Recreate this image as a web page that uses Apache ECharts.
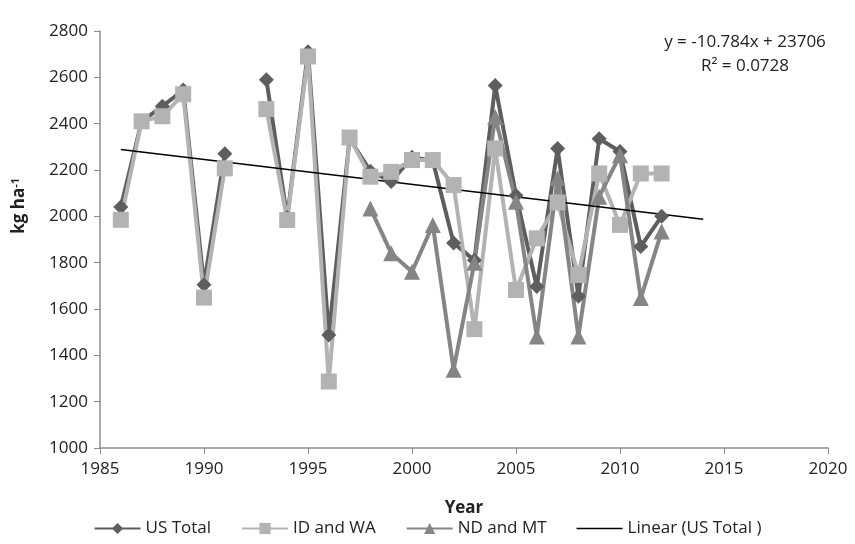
<!DOCTYPE html>
<html>
<head>
<meta charset="utf-8">
<script src="https://cdn.jsdelivr.net/npm/echarts@6/dist/echarts.min.js"></script>
<style>
  html, body { margin: 0; padding: 0; background: #fff; }
  #chart { width: 855px; height: 544px; }
</style>
</head>
<body>
<div id="chart"></div>
<script>
// years on the x axis
const years = [1986, 1987, 1988, 1989, 1990, 1991, 1992, 1993, 1994, 1995, 1996, 1997, 1998, 1999,
  2000, 2001, 2002, 2003, 2004, 2005, 2006, 2007, 2008, 2009, 2010, 2011, 2012]
// yields, kg ha-1 (null = no data)
const usTotal = [2040, 2410, 2475, 2545, 1705, 2270, null, 2590, 1995, 2710, 1488, 2335, 2195, 2150,
  2255, 2240, 1885, 1810, 2565, 2090, 1697, 2293, 1655, 2335, 2280, 1870, 2000]
const idWa = [1985, 2410, 2432, 2527, 1649, 2207, null, 2463, 1984, 2690, 1287, 2340, 2171, 2192,
  2243, 2243, 2135, 1513, 2293, 1682, 1905, 2060, 1747, 2185, 1963, 2185, 2185]
const ndMt = [null, null, null, null, null, null, null, null, null, null, null, null, 2034, 1841,
  1761, 1963, 1338, 1800, 2429, 2063, 1481, 2164, 1481, 2085, 2264, 1647, 1934]
// linear trend of US total, end points
const trendYears = [1986, 2014]
const trendValues = [2289, 1987]

const pairs = (xs, ys) => xs.map((x, i) => [x, ys[i]])

const font = 'Open Sans'
const chart = echarts.init(document.getElementById('chart'))

chart.setOption({
  animation: false,
  textStyle: { fontFamily: font },
  grid: { left: 100, right: 27, top: 31, bottom: 96 },
  xAxis: {
    type: 'value',
    min: 1985,
    max: 2020,
    interval: 5,
    name: 'Year',
    nameLocation: 'middle',
    nameGap: 52,
    nameTextStyle: { fontSize: 17, fontWeight: 'bold', color: '#222' },
    axisLine: { lineStyle: { color: '#8c8c8c', width: 1.5 } },
    axisTick: { show: true, length: 6, lineStyle: { color: '#8c8c8c' } },
    axisLabel: { fontSize: 17, color: '#222', margin: 13, formatter: v => String(v) },
    splitLine: { show: false }
  },
  yAxis: {
    type: 'value',
    min: 1000,
    max: 2800,
    interval: 200,
    axisLine: { show: true, lineStyle: { color: '#8c8c8c', width: 1.5 } },
    axisTick: { show: true, length: 6, lineStyle: { color: '#8c8c8c' } },
    axisLabel: { fontSize: 17, color: '#222', margin: 12, formatter: v => String(v) },
    splitLine: { show: false }
  },
  legend: {
    bottom: 2,
    left: 'center',
    itemWidth: 46,
    itemHeight: 14,
    itemGap: 30,
    textStyle: { fontSize: 17, color: '#222' },
    data: [
      'US Total',
      'ID and WA',
      'ND and MT',
      { name: 'Linear (US Total )', icon: 'path://M0,0 L46,0 L46,1.5 L0,1.5 Z' }
    ]
  },
  graphic: [
    {
      type: 'text',
      left: 10,
      top: 178,
      rotation: Math.PI / 2,
      style: {
        text: '{b|kg ha}{s|-1}',
        rich: {
          b: { fontSize: 17, fontWeight: 'bold', fill: '#222', fontFamily: font },
          s: { fontSize: 11, fontWeight: 'bold', fill: '#222', fontFamily: font, verticalAlign: 'top', padding: [0, 0, 8, 0] }
        }
      }
    },
    {
      type: 'text',
      x: 745,
      y: 30,
      style: {
        text: 'y = -10.784x + 23706\nR\u00b2 = 0.0728',
        fontSize: 17,
        lineHeight: 24,
        align: 'center',
        fill: '#222',
        fontFamily: font
      }
    }
  ],
  series: [
    {
      name: 'US Total',
      type: 'line',
      data: pairs(years, usTotal),
      symbol: 'diamond',
      symbolSize: 15,
      lineStyle: { color: '#5e5e5e', width: 4 },
      itemStyle: { color: '#5e5e5e' }
    },
    {
      name: 'ID and WA',
      type: 'line',
      data: pairs(years, idWa),
      symbol: 'rect',
      symbolSize: 16,
      lineStyle: { color: '#b3b3b3', width: 4 },
      itemStyle: { color: '#b3b3b3' }
    },
    {
      name: 'ND and MT',
      type: 'line',
      data: pairs(years, ndMt),
      symbol: 'triangle',
      symbolSize: 16,
      lineStyle: { color: '#858585', width: 4 },
      itemStyle: { color: '#858585' }
    },
    {
      name: 'Linear (US Total )',
      type: 'line',
      data: pairs(trendYears, trendValues),
      symbol: 'none',
      lineStyle: { color: '#000', width: 1.5 },
      itemStyle: { color: '#000' }
    }
  ]
})
</script>
</body>
</html>
